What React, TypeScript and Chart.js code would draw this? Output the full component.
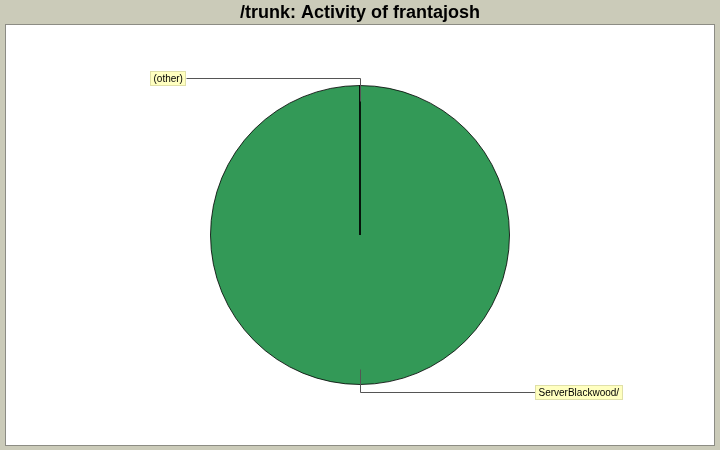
import React, { useEffect, useRef } from "react";
import { Chart, registerables } from "chart.js";

Chart.register(...registerables);

const categories = ["ServerBlackwood/", "(other)"];
const values = [10000, 1];
const colors = ["#339957", "#339957"];
const titleText = "/trunk: Activity of frantajosh";

const bgPlugin = {
  id: "bgPlugin",
  beforeDraw(chart: any) {
    const ctx = chart.ctx;
    ctx.save();
    ctx.fillStyle = "#cbcbb9";
    ctx.fillRect(0, 0, chart.width, chart.height);
    ctx.fillStyle = "#ffffff";
    ctx.fillRect(5, 24, 710, 422);
    ctx.strokeStyle = "#8c8c84";
    ctx.lineWidth = 1;
    ctx.strokeRect(5.5, 24.5, 709, 421);
    ctx.restore();
  },
};

const labelPlugin = {
  id: "labelPlugin",
  afterDatasetsDraw(chart: any) {
    const ctx = chart.ctx;
    const meta = chart.getDatasetMeta(0);
    ctx.save();
    ctx.font = "10px 'Liberation Sans', Arial, sans-serif";
    ctx.textBaseline = "middle";
    meta.data.forEach((arc: any, i: number) => {
      const { x, y, outerRadius, startAngle, endAngle } = arc.getProps(
        ["x", "y", "outerRadius", "startAngle", "endAngle"],
        true
      );
      const mid = (startAngle + endAngle) / 2;
      const cos = Math.cos(mid);
      const sin = Math.sin(mid);
      const sx = x + cos * (outerRadius - 15);
      const sy = y + sin * (outerRadius - 15);
      const ex = x + cos * (outerRadius + 7.5);
      const ey = y + sin * (outerRadius + 7.5);
      const isLeft = i === 1 ? true : cos < -0.01;
      const lx = isLeft ? x - (outerRadius + 25) : x + (outerRadius + 25);
      ctx.strokeStyle = "#555555";
      ctx.lineWidth = 1;
      ctx.beginPath();
      ctx.moveTo(Math.round(sx) + 0.5, Math.round(sy) + 0.5);
      ctx.lineTo(Math.round(ex) + 0.5, Math.round(ey) + 0.5);
      ctx.lineTo(Math.round(lx) + 0.5, Math.round(ey) + 0.5);
      ctx.stroke();
      const text = categories[i];
      const tw = ctx.measureText(text).width;
      const bw = Math.round(tw + 7);
      const bh = 15;
      const bx = isLeft ? Math.round(lx) - bw : Math.round(lx);
      const by = Math.round(ey) - 7;
      ctx.fillStyle = "#ffffc0";
      ctx.fillRect(bx, by, bw, bh);
      ctx.strokeStyle = "#e0e0a8";
      ctx.strokeRect(bx + 0.5, by + 0.5, bw - 1, bh - 1);
      ctx.fillStyle = "#000000";
      ctx.textAlign = "left";
      ctx.fillText(text, bx + 3.5, by + bh / 2 + 0.5);
    });
    ctx.restore();
  },
};

export default function App() {
  const ref = useRef<HTMLCanvasElement>(null);
  useEffect(() => {
    document.body.style.margin = "0";
    const chart = new Chart(ref.current as HTMLCanvasElement, {
      type: "pie",
      data: {
        labels: categories,
        datasets: [
          {
            data: values,
            backgroundColor: colors,
            borderColor: "rgba(0,0,0,0.8)",
            borderWidth: 1,
          },
        ],
      },
      options: {
        responsive: false,
        animation: false,
        layout: { padding: { top: 0, bottom: 65, left: 0, right: 0 } },
        plugins: {
          legend: { display: false },
          tooltip: { enabled: false },
          title: {
            display: true,
            text: titleText,
            color: "#000000",
            font: { family: "'Liberation Sans', Arial, sans-serif", size: 18, weight: "bold" },
            padding: { top: 2, bottom: 85 - 2 - 18 * 1.2 },
          },
        },
      },
      plugins: [bgPlugin, labelPlugin],
    });
    return () => chart.destroy();
  }, []);
  return (
    <div style={{ position: "fixed", left: 0, top: 0, width: 720, height: 450 }}>
      <canvas ref={ref} width={720} height={450} style={{ width: 720, height: 450 }} />
    </div>
  );
}
